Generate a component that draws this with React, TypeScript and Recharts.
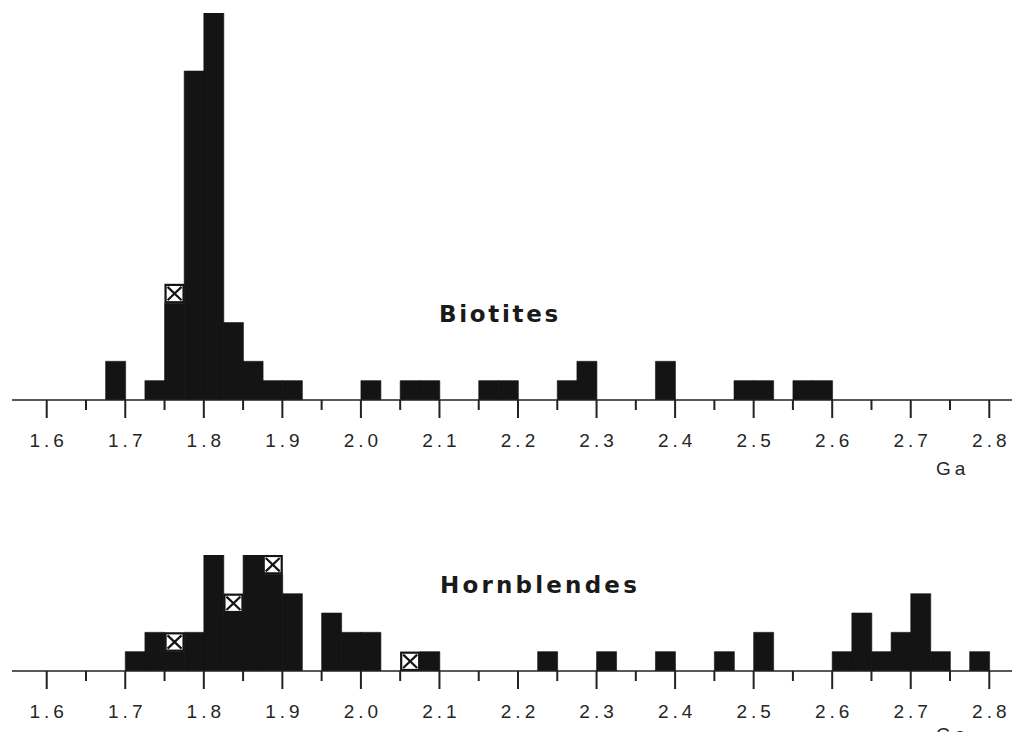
import React from "react";
import { BarChart, Bar, XAxis, YAxis } from "recharts";

// Bin start values (Ga), bin width 0.025 Ga
const binStarts = [
  1.575, 1.6, 1.625, 1.65, 1.675, 1.7, 1.725, 1.75, 1.775, 1.8,
  1.825, 1.85, 1.875, 1.9, 1.925, 1.95, 1.975, 2.0, 2.025, 2.05,
  2.075, 2.1, 2.125, 2.15, 2.175, 2.2, 2.225, 2.25, 2.275, 2.3,
  2.325, 2.35, 2.375, 2.4, 2.425, 2.45, 2.475, 2.5, 2.525, 2.55,
  2.575, 2.6, 2.625, 2.65, 2.675, 2.7, 2.725, 2.75, 2.775, 2.8,
];

// Biotites: solid counts and crossed (open) counts per bin
const biotiteSolid = [
  0, 0, 0, 0, 2, 0, 1, 5, 17, 20,
  4, 2, 1, 1, 0, 0, 0, 1, 0, 1,
  1, 0, 0, 1, 1, 0, 0, 1, 2, 0,
  0, 0, 2, 0, 0, 0, 1, 1, 0, 1,
  1, 0, 0, 0, 0, 0, 0, 0, 0, 0,
];
const biotiteCrossed = [
  0, 0, 0, 0, 0, 0, 0, 1, 0, 0,
  0, 0, 0, 0, 0, 0, 0, 0, 0, 0,
  0, 0, 0, 0, 0, 0, 0, 0, 0, 0,
  0, 0, 0, 0, 0, 0, 0, 0, 0, 0,
  0, 0, 0, 0, 0, 0, 0, 0, 0, 0,
];

// Hornblendes
const hornblendeSolid = [
  0, 0, 0, 0, 0, 1, 2, 1, 2, 6,
  3, 6, 5, 4, 0, 3, 2, 2, 0, 0,
  1, 0, 0, 0, 0, 0, 1, 0, 0, 1,
  0, 0, 1, 0, 0, 1, 0, 2, 0, 0,
  0, 1, 3, 1, 2, 4, 1, 0, 1, 0,
];
const hornblendeCrossed = [
  0, 0, 0, 0, 0, 0, 0, 1, 0, 0,
  1, 0, 1, 0, 0, 0, 0, 0, 0, 1,
  0, 0, 0, 0, 0, 0, 0, 0, 0, 0,
  0, 0, 0, 0, 0, 0, 0, 0, 0, 0,
  0, 0, 0, 0, 0, 0, 0, 0, 0, 0,
];

// Axis ticks (Ga): majors labelled every 0.1, minors every 0.05
const tickValues = [
  1.6, 1.65, 1.7, 1.75, 1.8, 1.85, 1.9, 1.95, 2.0, 2.05, 2.1, 2.15, 2.2,
  2.25, 2.3, 2.35, 2.4, 2.45, 2.5, 2.55, 2.6, 2.65, 2.7, 2.75, 2.8,
];
const axisUnit = "Ga";
const panelTitles = ["Biotites", "Hornblendes"];

const BIN = 0.025;
const DOMAIN_MIN = 1.5558;
const DOMAIN_MAX = 2.8391;
const CHART_W = 1012;
const MARGIN_L = 4;
const PLOT_W = CHART_W - MARGIN_L;
const PX_PER = PLOT_W / (DOMAIN_MAX - DOMAIN_MIN);
const PAD_L = (binStarts[0] - DOMAIN_MIN) * PX_PER;
const PAD_R = (DOMAIN_MAX - (binStarts[binStarts.length - 1] + BIN)) * PX_PER;

const INK = "#141414";
const LABEL_FONT = "'Liberation Sans', Arial, sans-serif";

const bioData = binStarts.map((b, i) => ({
  bin: b,
  solid: biotiteSolid[i],
  cross: biotiteCrossed[i],
}));
const hornData = binStarts.map((b, i) => ({
  bin: b,
  solid: hornblendeSolid[i],
  cross: hornblendeCrossed[i],
}));

const CrossBox = (p: any) => {
  const { x, y, width: w, height: h } = p;
  if (!h || h <= 0 || !w) return <g />;
  return (
    <g>
      <rect x={x + 1} y={y + 1} width={w - 2} height={h - 2} fill="#fff" stroke={INK} strokeWidth={2.2} />
      <line x1={x + 3} y1={y + 3} x2={x + w - 3} y2={y + h - 3} stroke={INK} strokeWidth={2.2} />
      <line x1={x + w - 3} y1={y + 3} x2={x + 3} y2={y + h - 3} stroke={INK} strokeWidth={2.2} />
    </g>
  );
};

const renderTick = (props: any) => {
  const { x, y, payload } = props;
  const v = Number(payload.value);
  const major = Math.abs(Math.round(v * 10) - v * 10) < 1e-6;
  return (
    <g>
      <line x1={x} x2={x} y1={y} y2={y + (major ? 18 : 10)} stroke="#222" strokeWidth={2} />
      {major && (
        <text
          x={x + 2}
          y={y + 47}
          textAnchor="middle"
          fontFamily={LABEL_FONT}
          fontSize={19}
          letterSpacing={4}
          fill="#262626"
        >
          {v.toFixed(1)}
        </text>
      )}
    </g>
  );
};

const Panel = ({ data, yMax, height, top, axisHeight }: any) => (
  <BarChart
    width={CHART_W}
    height={height}
    data={data}
    margin={{ top, right: 0, left: MARGIN_L, bottom: 0 }}
    barCategoryGap={0}
    barGap={0}
  >
    <XAxis
      xAxisId="num"
      dataKey="bin"
      type="number"
      domain={[DOMAIN_MIN, DOMAIN_MAX]}
      allowDataOverflow
      ticks={tickValues}
      interval={0}
      height={axisHeight}
      tickSize={0}
      tickMargin={0}
      tickLine={false}
      axisLine={{ stroke: "#222", strokeWidth: 1.5 }}
      tick={renderTick}
    />
    <XAxis
      xAxisId="cat"
      dataKey="bin"
      type="category"
      hide
      height={0}
      padding={{ left: PAD_L, right: PAD_R }}
    />
    <YAxis hide type="number" domain={[0, yMax]} allowDataOverflow width={0} />
    <Bar
      xAxisId="cat"
      dataKey="solid"
      stackId="s"
      fill={INK}
      stroke={INK}
      strokeWidth={0.6}
      isAnimationActive={false}
    />
    <Bar
      xAxisId="cat"
      dataKey="cross"
      stackId="s"
      fill="#fff"
      shape={CrossBox}
      isAnimationActive={false}
    />
  </BarChart>
);

export default function App() {
  return (
    <div
      style={{
        position: "relative",
        width: CHART_W,
        height: 732,
        marginBottom: -8,
        overflow: "hidden",
        background: "#fff",
      }}
    >
      <div style={{ position: "absolute", left: 0, top: 0 }}>
        <Panel data={bioData} yMax={20} height={472} top={5} axisHeight={80} />
      </div>
      <div style={{ position: "absolute", left: 0, top: 532 }}>
        <Panel data={hornData} yMax={6} height={200} top={15} axisHeight={69} />
      </div>
      <svg
        width={CHART_W}
        height={732}
        style={{ position: "absolute", left: 0, top: 0, pointerEvents: "none" }}
      >
        <text
          x={431}
          y={314}
          fontFamily="'DejaVu Sans', sans-serif"
          fontWeight="bold"
          fontSize={23}
          letterSpacing={2.7}
          fill="#1a1a1a"
        >
          {panelTitles[0]}
        </text>
        <text
          x={432}
          y={585}
          fontFamily="'DejaVu Sans', sans-serif"
          fontWeight="bold"
          fontSize={23}
          letterSpacing={3.2}
          fill="#1a1a1a"
        >
          {panelTitles[1]}
        </text>
        <text
          x={928}
          y={467}
          fontFamily={LABEL_FONT}
          fontSize={19}
          letterSpacing={4}
          fill="#262626"
        >
          {axisUnit}
        </text>
        <text
          x={928}
          y={733}
          fontFamily={LABEL_FONT}
          fontSize={19}
          letterSpacing={4}
          fill="#262626"
        >
          {axisUnit}
        </text>
      </svg>
    </div>
  );
}
